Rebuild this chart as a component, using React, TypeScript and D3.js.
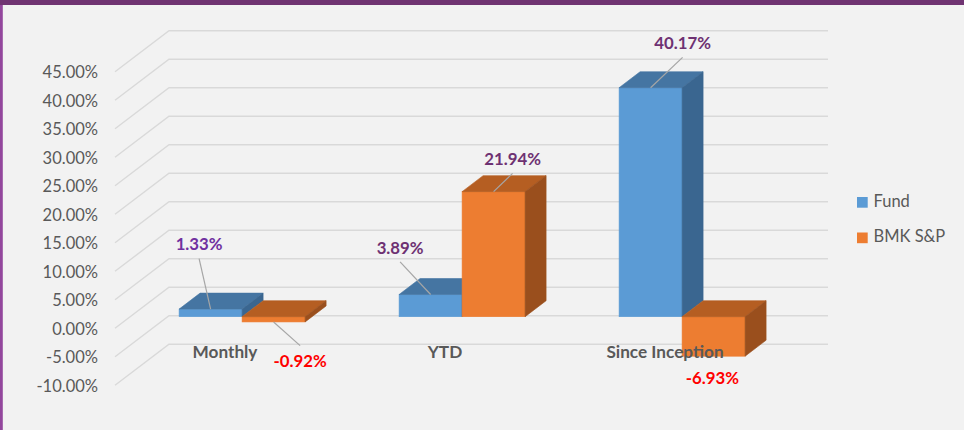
import React, { useEffect } from "react";
import * as d3 from "d3";

const categories = ["Monthly", "YTD", "Since Inception"];
const seriesNames = ["Fund", "BMK S&P"];
const fundValues = [1.33, 3.89, 40.17];
const bmkValues = [-0.92, 21.94, -6.93];
const tickValues = [-10, -5, 0, 5, 10, 15, 20, 25, 30, 35, 40, 45];

// label offsets relative to the bar end anchor (front face, centre)
const fundLabelOffsets = [[-11.5, -64], [-30.5, -46], [32, -43.7]];
const bmkLabelOffsets = [[26.5, 39.7], [19, -31.7], [-1.3, 22]];
const fundLabelColors = ["#7030a0", "#6e3172", "#6e3172"];
const bmkLabelColors = ["#ff0000", "#6e3172", "#ff0000"];
const bmkLeaders = [true, true, false];

const W = 964;
const H = 430;
const FONT = "Lato, 'Open Sans', sans-serif";

const colors = {
  Fund: { front: "#5b9bd5", top: "#4575a2", side: "#3a6690" },
  "BMK S&P": { front: "#ed7d31", top: "#b55e22", side: "#9a4f1d" },
};

export default function App() {
  useEffect(() => {
    document.body.style.margin = "0";
  }, []);

  const y = d3.scaleLinear().domain([-10, 45]).range([385.3, 71.8]);
  const frontLeft = 115;
  const x0 = d3.scaleBand().domain(categories).range([frontLeft, 775]);
  const x1 = d3.scaleBand().domain(seriesNames).range([-61, 65]);
  const wallDx = 54, wallDy = -41;
  const barOffX = 15.1, barOffY = -11.6;
  const depthDx = 21, depthDy = -16;
  const bw = x1.bandwidth();

  const grid = tickValues.map((t) => {
    const yf = y(t);
    return (
      <path
        key={"g" + t}
        d={`M${frontLeft},${yf}L${frontLeft + wallDx},${yf + wallDy}L${828},${yf + wallDy}`}
        fill="none"
        stroke="#d9d9d9"
        strokeWidth={1.4}
      />
    );
  });

  const tickLabels = tickValues.map((t) => (
    <text
      key={"t" + t}
      x={98}
      y={y(t) + 2.5}
      textAnchor="end"
      dominantBaseline="middle"
      fontFamily={FONT}
      fontSize={16.5}
      fill="#595959"
    >
      {t.toFixed(2) + "%"}
    </text>
  ));

  const bars: any[] = [];
  const labels: any[] = [];
  categories.forEach((c, ci) => {
    const center = (x0(c) as number) + x0.bandwidth() / 2;
    seriesNames.forEach((s, si) => {
      const v = si === 0 ? fundValues[ci] : bmkValues[ci];
      const xl = center + (x1(s) as number) + barOffX;
      const xr = xl + bw;
      const yt = y(Math.max(0, v)) + barOffY;
      const yb = y(Math.min(0, v)) + barOffY;
      const col = (colors as any)[s];
      bars.push(
        <g key={`b${ci}-${si}`}>
          <rect x={xl} y={yt} width={bw} height={yb - yt} fill={col.front} stroke={col.front} strokeWidth={0.6} />
          <path
            d={`M${xl},${yt}L${xl + depthDx},${yt + depthDy}L${xr + depthDx},${yt + depthDy}L${xr},${yt}Z`}
            fill={col.top}
            stroke={col.top}
            strokeWidth={0.6}
          />
          <path
            d={`M${xr},${yt}L${xr + depthDx},${yt + depthDy}L${xr + depthDx},${yb + depthDy}L${xr},${yb}Z`}
            fill={col.side}
            stroke={col.side}
            strokeWidth={0.6}
          />
        </g>
      );
      const ax = (xl + xr) / 2;
      const ay = v >= 0 ? yt : yb;
      const off = si === 0 ? fundLabelOffsets[ci] : bmkLabelOffsets[ci];
      const lx = ax + off[0];
      const ly = ay + off[1];
      const color = si === 0 ? fundLabelColors[ci] : bmkLabelColors[ci];
      const leader = si === 0 ? true : bmkLeaders[ci];
      if (leader) {
        const above = ly < ay;
        labels.push(
          <line
            key={`l${ci}-${si}`}
            x1={lx}
            y1={above ? ly + 13.4 : ly - 16}
            x2={ax}
            y2={ay}
            stroke="#a6a6a6"
            strokeWidth={1.2}
          />
        );
      }
      labels.push(
        <text
          key={`dl${ci}-${si}`}
          x={lx}
          y={ly + 1}
          textAnchor="middle"
          dominantBaseline="middle"
          fontFamily={FONT}
          fontWeight="bold"
          fontSize={16.8}
          fill={color}
        >
          {v.toFixed(2) + "%"}
        </text>
      );
    });
  });

  const catLabels = categories.map((c) => (
    <text
      key={"c" + c}
      x={(x0(c) as number) + x0.bandwidth() / 2}
      y={354}
      textAnchor="middle"
      dominantBaseline="middle"
      fontFamily={FONT}
      fontWeight="bold"
      fontSize={17.2}
      fill="#595959"
    >
      {c}
    </text>
  ));

  const legend = seriesNames.map((s, i) => (
    <g key={"lg" + s} transform={`translate(857,${197 + i * 35.5})`}>
      <rect x={0} y={0} width={10.7} height={10.7} fill={(colors as any)[s].front} />
      <text x={16.5} y={5.5} dominantBaseline="middle" fontFamily={FONT} fontSize={16.5} fill="#595959">
        {s}
      </text>
    </g>
  ));

  return (
    <svg width={W} height={H} style={{ position: "absolute", left: 0, top: 0, display: "block" }}>
      <rect x={0} y={0} width={W} height={H} fill="#f2f2f2" />
      <rect x={0} y={0} width={2.8} height={H} fill="#93479d" />
      <rect x={0} y={0} width={W} height={5} fill="#703472" />
      {grid}
      {tickLabels}
      {bars}
      {catLabels}
      {labels}
      {legend}
    </svg>
  );
}
